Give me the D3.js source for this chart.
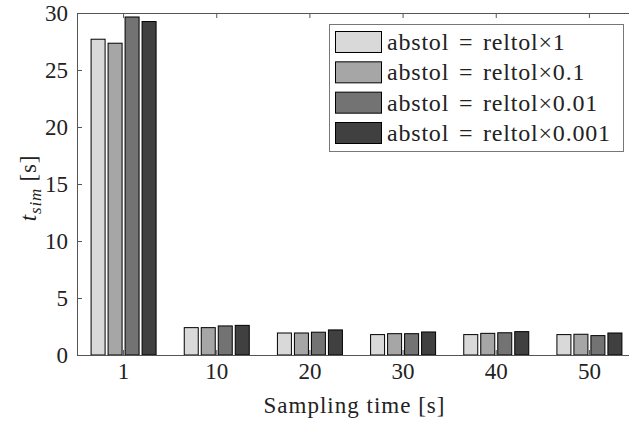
<!DOCTYPE html>
<html>
<head>
<meta charset="utf-8">
<script src="https://cdn.jsdelivr.net/npm/d3@7"></script>
<style>
  body { margin: 0; background: #fff; }
  svg { display: block; }
  svg text { font-family: 'Liberation Serif', serif; }
</style>
</head>
<body>
<div id="chart"></div>
<script>
// sampling times and simulation times
const samplingTimes = ["1", "10", "20", "30", "40", "50"];
const seriesNames = ["abstol = reltol\u00d71", "abstol = reltol\u00d70.1", "abstol = reltol\u00d70.01", "abstol = reltol\u00d70.001"];
const tol1 = [27.7, 2.4, 1.93, 1.79, 1.79, 1.79];
const tol01 = [27.35, 2.4, 1.93, 1.87, 1.9, 1.82];
const tol001 = [29.65, 2.55, 2.0, 1.87, 1.95, 1.7];
const tol0001 = [29.25, 2.6, 2.2, 2.02, 2.05, 1.93];
const yTicks = [0, 5, 10, 15, 20, 25, 30];
const colors = ["#d9d9d9", "#a6a6a6", "#737373", "#404040"];

const series = [tol1, tol01, tol001, tol0001];

const pageWidth = 629;
const pageHeight = 429;
const plotLeft = 77, plotRight = 636, plotTop = 13, plotBottom = 355;
const serif = "'Liberation Serif', serif";

const svg = d3.select("#chart")
    .append("svg")
    .attr("width", pageWidth)
    .attr("height", pageHeight);

const x = d3.scaleBand()
    .domain(samplingTimes)
    .range([plotLeft, plotRight]);

const xInner = d3.scalePoint()
    .domain(d3.range(series.length))
    .range([-25.5, 25.5]);

const y = d3.scaleLinear()
    .domain([0, 30])
    .range([plotBottom, plotTop]);

const barWidth = 14;

// bars
series.forEach((vals, i) => {
    svg.append("g")
        .selectAll("rect")
        .data(vals)
        .enter().append("rect")
        .attr("x", (d, j) => x(samplingTimes[j]) + x.bandwidth() / 2 + xInner(i) - barWidth / 2)
        .attr("y", d => y(d))
        .attr("width", barWidth)
        .attr("height", d => y(0) - y(d))
        .attr("fill", colors[i])
        .attr("stroke", "#000")
        .attr("stroke-width", 1);
});

// axes
const axisColor = "#555";
const xAxis = svg.append("g")
    .attr("transform", "translate(0," + plotBottom + ")")
    .call(d3.axisBottom(x).tickSize(-5).tickSizeOuter(0).tickPadding(14));
const xTop = svg.append("g")
    .attr("transform", "translate(0," + plotTop + ")")
    .call(d3.axisTop(x).tickSize(-5).tickSizeOuter(0).tickFormat(""));
const yAxis = svg.append("g")
    .attr("transform", "translate(" + plotLeft + ",0)")
    .call(d3.axisLeft(y).tickValues(yTicks).tickSize(-5).tickSizeOuter(0).tickPadding(9));

[xAxis, xTop, yAxis].forEach(g => {
    g.attr("font-family", serif).attr("font-size", 23);
    g.select(".domain").attr("stroke", axisColor);
    g.selectAll(".tick line").attr("stroke", axisColor);
    g.selectAll("text").attr("fill", "#222");
});
xAxis.selectAll("text").attr("dy", "0.45em");
yAxis.selectAll("text").attr("dy", "0.33em");

// axis labels
svg.append("text")
    .attr("x", (plotLeft + plotRight) / 2 - 2)
    .attr("y", 413)
    .attr("text-anchor", "middle")
    .attr("fill", "#222")
    .attr("font-family", serif)
    .attr("font-size", 23)
    .attr("letter-spacing", 1)
    .text("Sampling time [s]");

const yl = svg.append("text")
    .attr("transform", "translate(36," + 188 + ") rotate(-90)")
    .attr("text-anchor", "middle")
    .attr("fill", "#222")
    .attr("font-family", serif)
    .attr("font-size", 23)
    .attr("letter-spacing", 0.8);
yl.append("tspan").attr("font-style", "italic").text("t");
yl.append("tspan").attr("font-style", "italic").attr("font-size", 17).attr("dy", 5).text("sim");
yl.append("tspan").attr("dy", -5).text(" [s]");

// legend
const legend = svg.append("g");
legend.append("rect")
    .attr("x", 329.5).attr("y", 24.5)
    .attr("width", 294).attr("height", 127)
    .attr("fill", "#fff")
    .attr("stroke", "#777");

const rowY = d3.scalePoint().domain(d3.range(series.length)).range([42, 133]);
seriesNames.forEach((name, i) => {
    legend.append("rect")
        .attr("x", 335.5).attr("y", rowY(i) - 10.5)
        .attr("width", 46).attr("height", 21)
        .attr("fill", colors[i])
        .attr("stroke", "#000");
    legend.append("text")
        .attr("x", 387).attr("y", rowY(i) + 8)
        .attr("fill", "#222")
        .attr("font-family", serif)
        .attr("font-size", 24)
        .attr("letter-spacing", 0.8)
        .attr("word-spacing", 3)
        .text(name);
});
</script>
</body>
</html>
